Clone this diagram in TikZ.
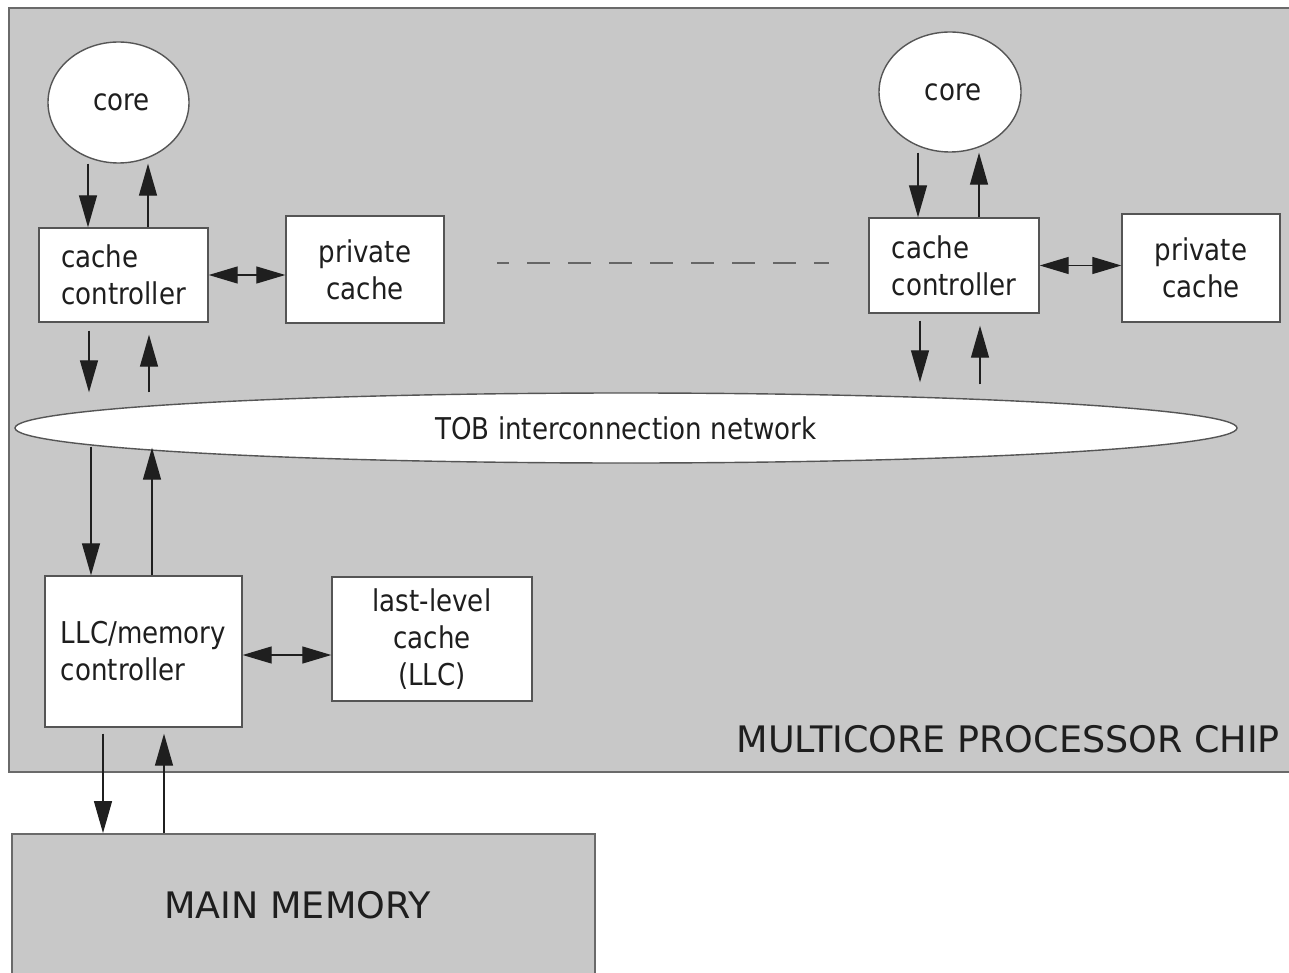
\documentclass[tikz,border=0pt]{standalone}
\usepackage{fontspec}
\setmainfont{DejaVu Sans}[FakeStretch=0.87]
\newfontfamily\capsfamily{DejaVu Sans}
\usetikzlibrary{shapes.geometric,arrows.meta}
\definecolor{chipgray}{HTML}{C8C8C8}
\definecolor{edgegray}{HTML}{555555}
\definecolor{chipedge}{HTML}{6A6A6A}
\definecolor{txt}{HTML}{1E1E1E}
\newcommand\lblfont{\fontsize{30}{37}\selectfont}
\newcommand\capsfont{\capsfamily\fontsize{36.5}{44}\selectfont}
\begin{document}
\begin{tikzpicture}[x=1pt,y=-1pt,
  box/.style={draw=edgegray, line width=1.4pt, fill=white, rectangle, inner sep=0pt, text=txt, font=\lblfont},
  oval/.style={draw=edgegray, line width=1.4pt, fill=white, ellipse, inner sep=0pt, text=txt, font=\lblfont},
  graybox/.style={draw=chipedge, line width=1.8pt, fill=chipgray, rectangle, inner sep=0pt, text=txt, font=\capsfont},
  capslbl/.style={inner sep=0pt, text=txt, font=\capsfont},
  arr/.style={-{Triangle[length=32pt,width=18pt]}, line width=1.3pt, draw=black!88},
  biarr/.style={{Triangle[length=29pt,width=17pt]}-{Triangle[length=29pt,width=17pt]}, line width=1.3pt, draw=black!88},
  dline/.style={draw=black!60, line width=2pt, dash pattern=on 23pt off 18pt, dash phase=11pt}
]
\useasboundingbox (0,0) rectangle (1289,973);
\clip (0,0) rectangle (1289,973);

% chip
\node[graybox, minimum width=1300, minimum height=764, anchor=north west] (chip) at (8,7) {};
\node[capslbl, anchor=base east] (chiplbl) at (1280,752) {MULTICORE PROCESSOR CHIP};

% main memory
\node[graybox, minimum width=583, minimum height=142] (mem) at (303.5,905) {\hspace*{-12pt}MAIN MEMORY};

% left core group
\node[oval, minimum width=141, minimum height=121] (core1) at (118.5,102.5) {\hspace*{6pt}core};
\node[box, minimum width=169, minimum height=94, align=left] (cc1) at (123.5,275) {cache\\controller};
\node[box, minimum width=158, minimum height=107, align=center] (priv1) at (365,269.5) {private\\cache};

% right core group
\node[oval, minimum width=142, minimum height=120] (core2) at (950,92) {\hspace*{6pt}core};
\node[box, minimum width=170, minimum height=95, align=left] (cc2) at (954,265.5) {cache\\controller};
\node[box, minimum width=158, minimum height=108, align=center] (priv2) at (1201,268) {private\\cache};

% dashed ellipsis
\coordinate (dl) at (497,263);
\coordinate (dr) at (829,263);
\draw[dline] (dl) -- (dr);

% network
\node[oval, minimum width=1222, minimum height=70] (tob) at (626,428) {TOB interconnection network};

% LLC
\node[box, minimum width=197, minimum height=151, align=left] (llc) at (143.5,651.5) {LLC/memory\\controller};
\node[box, minimum width=200, minimum height=124, align=center] (llcc) at (432,639) {last-level\\cache\\(LLC)};

% arrows left core
\draw[arr] ([xshift=-30.5]core1.south) -- ([xshift=-35.5]cc1.north);
\draw[arr] ([xshift=24.5]cc1.north) -- ([xshift=29.5]core1.south);
\draw[arr] ([xshift=-34.5,yshift=-8]cc1.south) -- ([xshift=-537]tob.north);
\draw[arr] ([xshift=-477]tob.north) -- ([xshift=25.5,yshift=-12]cc1.south);
\draw[biarr] (cc1.east) -- (cc1.east -| priv1.west);

% arrows right core
\draw[arr] ([xshift=-32]core2.south) -- ([xshift=-36]cc2.north);
\draw[arr] ([xshift=25]cc2.north) -- ([xshift=29]core2.south);
\draw[arr] ([xshift=-34,yshift=-7]cc2.south) -- ([xshift=294,yshift=10]tob.north);
\draw[arr] ([xshift=354,yshift=8]tob.north) -- ([xshift=26,yshift=-12]cc2.south);
\draw[biarr] (cc2.east) -- (cc2.east -| priv2.west);

% network to LLC
\draw[arr] ([xshift=-535,yshift=17]tob.south) -- ([xshift=-52.5]llc.north);
\draw[arr] ([xshift=8.5]llc.north) -- ([xshift=-474,yshift=16]tob.south);
\draw[biarr] ([yshift=-3.5]llc.east) -- ([yshift=-16]llcc.west);

% LLC to memory
\draw[arr] ([xshift=-40.5,yshift=-6]llc.south) -- ([xshift=-200.5]mem.north);
\draw[arr] ([xshift=-139.5]mem.north) -- ([xshift=20.5,yshift=-6]llc.south);
\end{tikzpicture}
\end{document}
